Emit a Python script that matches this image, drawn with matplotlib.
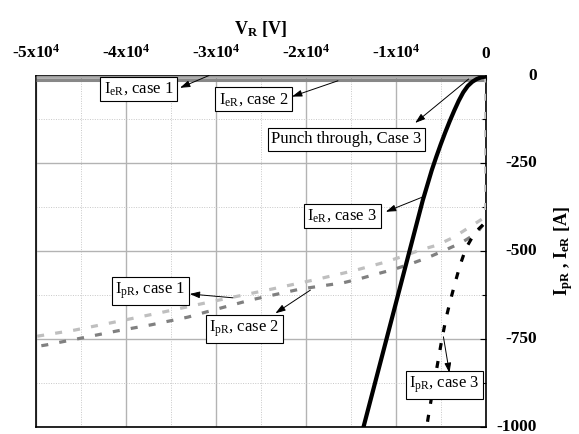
import numpy as np
import matplotlib
matplotlib.use('Agg')
import matplotlib.pyplot as plt
from matplotlib.ticker import MultipleLocator, FixedLocator

plt.rcParams['font.family'] = ['Liberation Serif', 'DejaVu Serif']
plt.rcParams['mathtext.fontset'] = 'custom'
plt.rcParams['mathtext.rm'] = 'Liberation Serif'
plt.rcParams['mathtext.it'] = 'Liberation Serif:italic'
plt.rcParams['mathtext.bf'] = 'Liberation Serif:bold'

# I_eR, case 1 and 2 (stay near zero)
v_e12 = [0, -50000]
i_e1 = [-4, -4]
i_e2 = [-13, -13]

# I_eR, case 3 (punch through)
v_e3 = [0, -500, -1000, -1500, -2000, -2500, -3000, -3500, -4000, -4500, -5000,
        -5500, -6000, -7000, -8000, -9000, -10000, -11000, -12000, -13000, -14000]
i_e3 = [-3, -5, -10, -18, -30, -48, -72, -100, -130, -162, -196,
        -232, -270, -356, -454, -552, -650, -748, -846, -944, -1042]

# I_pR, case 1
v_p1 = [0, 0, -300, -2000, -3600, -5400, -7300, -9100, -11400, -14700, -18700,
        -24300, -30500, -36100, -41600, -45700, -50000]
i_p1 = [0, -400, -407, -435, -461, -483, -497, -514, -533, -556, -580,
        -611, -644, -675, -704, -725, -743]

# I_pR, case 2
v_p2 = [-300, -1000, -2700, -4500, -6400, -8200, -10200, -12100, -13900, -15800,
        -20600, -26100, -31300, -33100, -37200, -40900, -45000, -48800, -50000]
i_p2 = [-425, -449, -476, -497, -518, -535, -552, -565, -578, -590,
        -608, -639, -675, -688, -710, -727, -748, -767, -772]

# I_pR, case 3
v_p3 = [-300, -1200, -2200, -2850, -3400, -3900, -4400, -4900, -5400, -5900, -6400, -6700]
i_p3 = [-425, -447, -492, -540, -590, -638, -690, -755, -828, -898, -975, -1025]

xticks = [-50000, -40000, -30000, -20000, -10000, 0]
xtick_labels = ['-5x10$^{\\mathbf{4}}$', '-4x10$^{\\mathbf{4}}$', '-3x10$^{\\mathbf{4}}$',
                '-2x10$^{\\mathbf{4}}$', '-1x10$^{\\mathbf{4}}$', '0']
yticks = [-1000, -750, -500, -250, 0]

fig = plt.figure(figsize=(5.79, 4.34), dpi=100)
ax = fig.add_axes([0.0617, 0.0168, 0.7772, 0.8092])

ax.plot(v_e12, i_e1, color='#aaaaaa', lw=2.0, solid_capstyle='butt', zorder=3)
ax.plot(v_e12, i_e2, color='#888888', lw=2.2, solid_capstyle='butt', zorder=3)
ax.plot(v_p2, i_p2, color='#808080', lw=2.3, ls=(0, (2.2, 3.5)), zorder=3)
ax.plot(v_p1, i_p1, color='#bfbfbf', lw=2.3, ls=(0, (2.2, 3.5)), zorder=4)
ax.plot(v_p3, i_p3, color='black', lw=2.3, ls=(0, (2.2, 3.5)), zorder=4)
ax.plot(v_e3, i_e3, color='black', lw=3.0, zorder=5)

ax.set_xlim(-50000, 0)
ax.set_ylim(-1000, 0)

ax.xaxis.tick_top()
ax.xaxis.set_label_position('top')
ax.yaxis.tick_right()
ax.yaxis.set_label_position('right')

ax.set_xticks(xticks)
ax.set_xticklabels(xtick_labels, fontweight='bold', fontsize=12.5)
ax.xaxis.set_minor_locator(MultipleLocator(5000))
ax.set_yticks(yticks)
ax.set_yticklabels([str(t) for t in yticks], fontweight='bold', fontsize=12.5)
ax.yaxis.set_minor_locator(MultipleLocator(125))

ax.tick_params(axis='x', which='both', direction='in', pad=10, length=3, width=0.8)
ax.tick_params(axis='x', which='minor', length=2)
ax.tick_params(axis='y', which='both', direction='in', pad=37, length=4, width=0.8)
ax.tick_params(axis='y', which='minor', length=3)
for lbl in ax.get_yticklabels():
    lbl.set_horizontalalignment('right')
    lbl.set_verticalalignment('center')

ax.grid(which='major', color='#b3b3b3', lw=1.0, ls='-', zorder=0)
ax.grid(which='minor', color='#c8c8c8', lw=0.7, ls=(0, (1, 1.5)), zorder=0)
ax.set_axisbelow(True)
for s in ax.spines.values():
    s.set_linewidth(1.2)

ax.set_xlabel('V$_{\\mathbf{R}}$ [V]', fontweight='bold', fontsize=13, labelpad=7)
ax.set_ylabel('I$_{\\mathbf{pR}}$ , I$_{\\mathbf{eR}}$ [A]', fontweight='bold',
              fontsize=13, labelpad=11, rotation=90)

box = dict(boxstyle='square,pad=0.22', fc='white', ec='black', lw=0.8)
arrow = dict(arrowstyle='-|>,head_length=0.6,head_width=0.2', color='black',
             lw=0.7, shrinkA=0, shrinkB=0)

notes = [
    ('I$_{\\mathrm{eR}}$, case 1', (-38550, -38), (-33970, -35), (-30750, 0)),
    ('I$_{\\mathrm{eR}}$, case 2', (-25800, -68), (-21530, -60), (-16420, -15)),
    ('Punch through, Case 3', (-15490, -182), (-7840, -135), (-1900, -10)),
    ('I$_{\\mathrm{eR}}$, case 3', (-15960, -400), (-11100, -388), (-6918, -345)),
    ('I$_{\\mathrm{pR}}$, case 1', (-37270, -614), (-32890, -622), (-28070, -633)),
    ('I$_{\\mathrm{pR}}$, case 2', (-26810, -722), (-23370, -677), (-19480, -611)),
    ('I$_{\\mathrm{pR}}$, case 3', (-4570, -880), (-4030, -847), (-4700, -744)),
]
for txt, pos, head, tail in notes:
    ax.annotate('', xy=head, xytext=tail, arrowprops=arrow, zorder=6)
    ax.text(pos[0], pos[1], txt, fontsize=12, ha='center', va='center',
            bbox=box, zorder=7)

plt.savefig('out.png', dpi=100)
